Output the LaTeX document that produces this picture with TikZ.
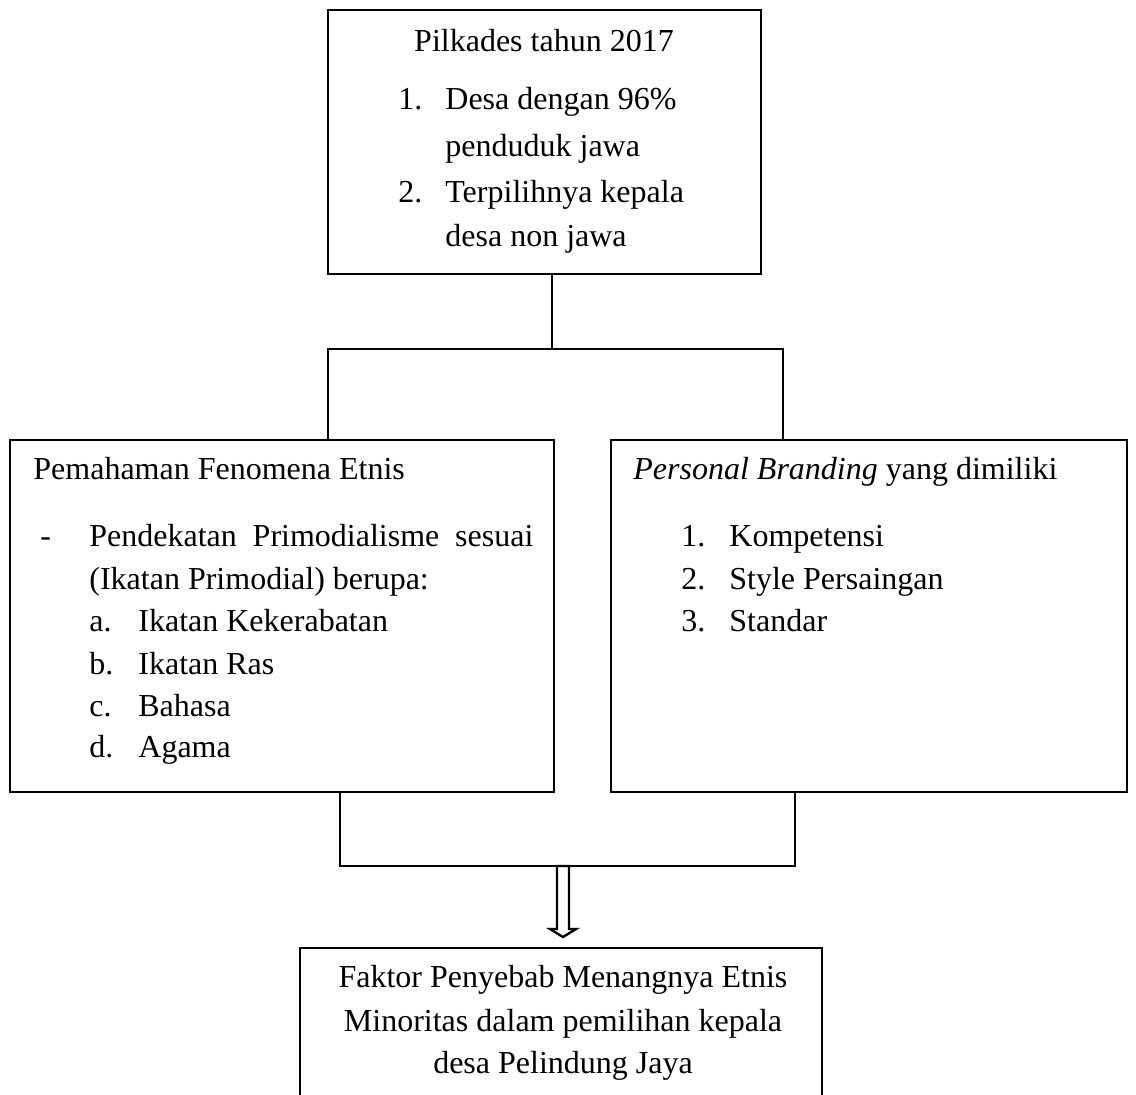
\documentclass[tikz,border=0pt]{standalone}
\usepackage{fontspec}
\setmainfont{Liberation Serif}
\begin{document}
\begin{tikzpicture}[x=0.5pt,y=-0.5pt,
  box/.style={draw, rectangle, inner sep=0pt, line width=1.45pt},
  txt/.style={inner sep=0pt, anchor=base west, font=\fontsize{16pt}{19pt}\selectfont},
  ctxt/.style={txt, anchor=base},
  conn/.style={line width=1.3pt, line cap=rect}]
\useasboundingbox (0,0) rectangle (1136,1095);
\clip (0,0) rectangle (1136,1095);

% boxes
\node[box, minimum width=216.5pt, minimum height=132pt] (top) at (544.5,142) {};
\node[box, minimum width=272pt, minimum height=176pt] (left) at (282,616) {};
\node[box, minimum width=258pt, minimum height=176pt] (right) at (869,616) {};
\node[box, minimum width=261pt, minimum height=81pt] (bottom) at (561,1029) {};

% top box text
\node[ctxt] (t0) at (544,52) {Pilkades tahun 2017};
\node[txt] (t1n) at (398,110) {1.};
\node[txt] (t1) at (445,110) {Desa dengan 96\%};
\node[txt] (t1b) at (445,157) {penduduk jawa};
\node[txt] (t2n) at (398,203) {2.};
\node[txt] (t2) at (445,203) {Terpilihnya kepala};
\node[txt] (t2b) at (445,247) {desa non jawa};

% left box text
\node[txt] (l0) at (33,480) {Pemahaman Fenomena Etnis};
\node[txt] (ld) at (40,547) {-};
\node[txt] (l1) at (89,547) {\makebox[222pt][s]{Pendekatan Primodialisme sesuai}};
\node[txt] (l2) at (89,590) {(Ikatan Primodial) berupa:};
\node[txt] (lan) at (89,632) {a.};
\node[txt] (la) at (138,632) {Ikatan Kekerabatan};
\node[txt] (lbn) at (89,675) {b.};
\node[txt] (lb) at (138,675) {Ikatan Ras};
\node[txt] (lcn) at (89,717) {c.};
\node[txt] (lc) at (138,717) {Bahasa};
\node[txt] (ldn) at (89,758) {d.};
\node[txt] (ldd) at (138,758) {Agama};

% right box text
\node[txt] (r0) at (633,480) {\textit{Personal Branding} yang dimiliki};
\node[txt] (r1n) at (681,547) {1.};
\node[txt] (r1) at (729,547) {Kompetensi};
\node[txt] (r2n) at (681,590) {2.};
\node[txt] (r2) at (729,590) {Style Persaingan};
\node[txt] (r3n) at (681,632) {3.};
\node[txt] (r3) at (729,632) {Standar};

% bottom box text
\node[ctxt] (b1) at (563,988) {Faktor Penyebab Menangnya Etnis};
\node[ctxt] (b2) at (563,1032) {Minoritas dalam pemilihan kepala};
\node[ctxt] (b3) at (563,1073) {desa Pelindung Jaya};

% connectors
\coordinate (jt) at (552,349);
\coordinate (jl) at (328,349);
\coordinate (jr) at (783,349);
\draw[conn] (top.south -| jt) -- (jt);
\draw[conn] (left.north -| jl) -- (jl) -- (jr) -- (right.north -| jr);

\coordinate (bl) at (340,866);
\coordinate (br) at (795,866);
\draw[conn] (left.south -| bl) -- (bl) -- (br) -- (right.south -| br);

% hollow block arrow
\coordinate (as) at (563,866);
\draw[line width=1.2pt, line join=miter] (as) ++(-6,0) -- ++(0,63) -- ++(-7,0) -- ++(13,8) -- ++(13,-8) -- ++(-7,0) -- ++(0,-63) -- cycle;
\end{tikzpicture}
\end{document}
